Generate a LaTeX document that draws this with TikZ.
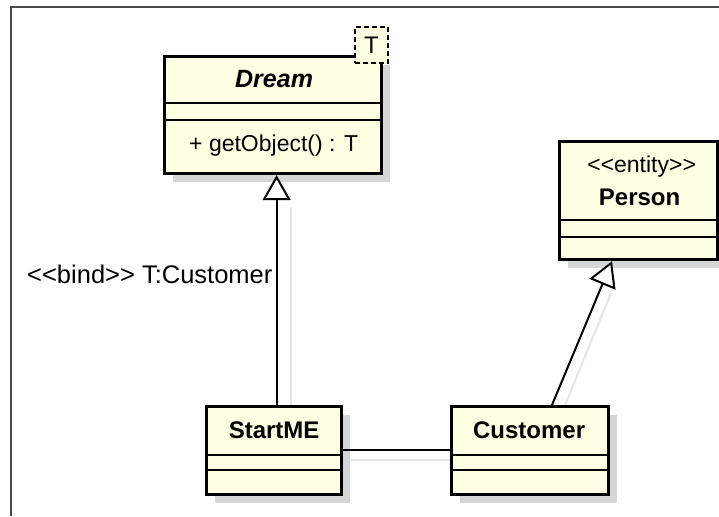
\documentclass[tikz,border=0pt]{standalone}
\usepackage{fontspec}
\setmainfont{Liberation Sans}
\usetikzlibrary{arrows.meta,shadows,calc}
\definecolor{classfill}{HTML}{FFFFE4}
\definecolor{shadowgray}{HTML}{D6D6D6}
\definecolor{ghost}{HTML}{E6E6E6}
\definecolor{framecol}{HTML}{4A4A4A}
\newcommand{\lguil}{<{}<}
\newcommand{\rguil}{>{}>}
\begin{document}
\begin{tikzpicture}[x=1pt,y=-1pt,
  classbox/.style={draw=black, line width=3.2pt, fill=classfill, inner sep=0pt,
    anchor=north west,
    drop shadow={shadow xshift=8pt, shadow yshift=-8pt, fill=shadowgray, opacity=1}},
  tplbox/.style={draw=black, line width=2pt, dashed, dash pattern=on 5pt off 3pt,
    fill=classfill, inner sep=0pt, minimum width=33pt, minimum height=36pt},
  compsep/.style={line width=2pt},
  txt/.style={font=\fontsize{24}{28}\selectfont, inner sep=0pt},
  stereo/.style={font=\fontsize{23}{27}\selectfont, inner sep=0pt},
  gen/.style={line width=2pt, -{Triangle[length=25pt,width=28pt,fill=white]}},
  assoc/.style={line width=2pt},
  ghostline/.style={ghost, line width=2pt, shift={(9,10)}}
]
\useasboundingbox (0,0) rectangle (719,516);
\fill[white] (0,0) rectangle (719,516);

% canvas frame
\draw[framecol, line width=2.5pt] (11,516) -- (11,7) -- (719,7);

% connector shadows
\draw[ghostline] (281.5,405) -- (281.5,197);
\draw[ghostline] (340,450) -- (450,450);
\draw[ghostline] (552,405) -- (602,283);

% Dream (template class)
\node[classbox, minimum width=217pt, minimum height=117pt] (dream) at (163,55) {};
\draw[compsep] ($(dream.north west)+(0,48)$) -- ($(dream.north east)+(0,48)$);
\draw[compsep] ($(dream.north west)+(0,65)$) -- ($(dream.north east)+(0,65)$);
\node[txt, font=\fontsize{25}{28}\selectfont\bfseries\itshape] (dreamname) at ($(dream.north)+(1,24)$) {Dream};
\node[txt, font=\fontsize{23}{27}\selectfont, anchor=west] (dreamop) at ($(dream.north west)+(26,91)$) {+ getObject() : T};
\node[tplbox] (tparam) at (371.5,45) {};
\node[font=\fontsize{24}{28}\selectfont, inner sep=0pt] (tname) at (tparam) {T};

% Person
\node[classbox, minimum width=158pt, minimum height=118pt] (person) at (558,140) {};
\draw[compsep] ($(person.north west)+(0,80)$) -- ($(person.north east)+(0,80)$);
\draw[compsep] ($(person.north west)+(0,97)$) -- ($(person.north east)+(0,97)$);
\node[stereo] (personst) at ($(person.north)+(3,27)$) {\lguil entity\rguil};
\node[txt, font=\fontsize{24}{28}\selectfont\bfseries] (personname) at ($(person.north)+(1,57)$) {Person};

% StartME
\node[classbox, minimum width=135pt, minimum height=88pt] (startme) at (205,405) {};
\draw[compsep] ($(startme.north west)+(0,50)$) -- ($(startme.north east)+(0,50)$);
\draw[compsep] ($(startme.north west)+(0,65)$) -- ($(startme.north east)+(0,65)$);
\node[txt, font=\fontsize{24}{28}\selectfont\bfseries] (startmename) at ($(startme.north)+(0,25)$) {StartME};

% Customer
\node[classbox, minimum width=157pt, minimum height=88pt] (customer) at (450,405) {};
\draw[compsep] ($(customer.north west)+(0,50)$) -- ($(customer.north east)+(0,50)$);
\draw[compsep] ($(customer.north west)+(0,65)$) -- ($(customer.north east)+(0,65)$);
\node[txt, font=\fontsize{24}{28}\selectfont\bfseries] (customername) at ($(customer.north)+(-1,25)$) {Customer};

% relationships
\draw[gen] ($(startme.north)+(2.5,0)$) -- ($(dream.south)+(3.5,0)$);
\draw[gen] ($(customer.north west)+(102,0)$) -- ($(person.south west)+(54,0)$);
\draw[assoc] (startme.east |- 0,450) -- (customer.west |- 0,450);

% binding label
\node[txt, font=\fontsize{25.5}{29}\selectfont, anchor=west] (bindlbl) at (27,274) {\lguil bind\rguil{} T:Customer};
\end{tikzpicture}
\end{document}
